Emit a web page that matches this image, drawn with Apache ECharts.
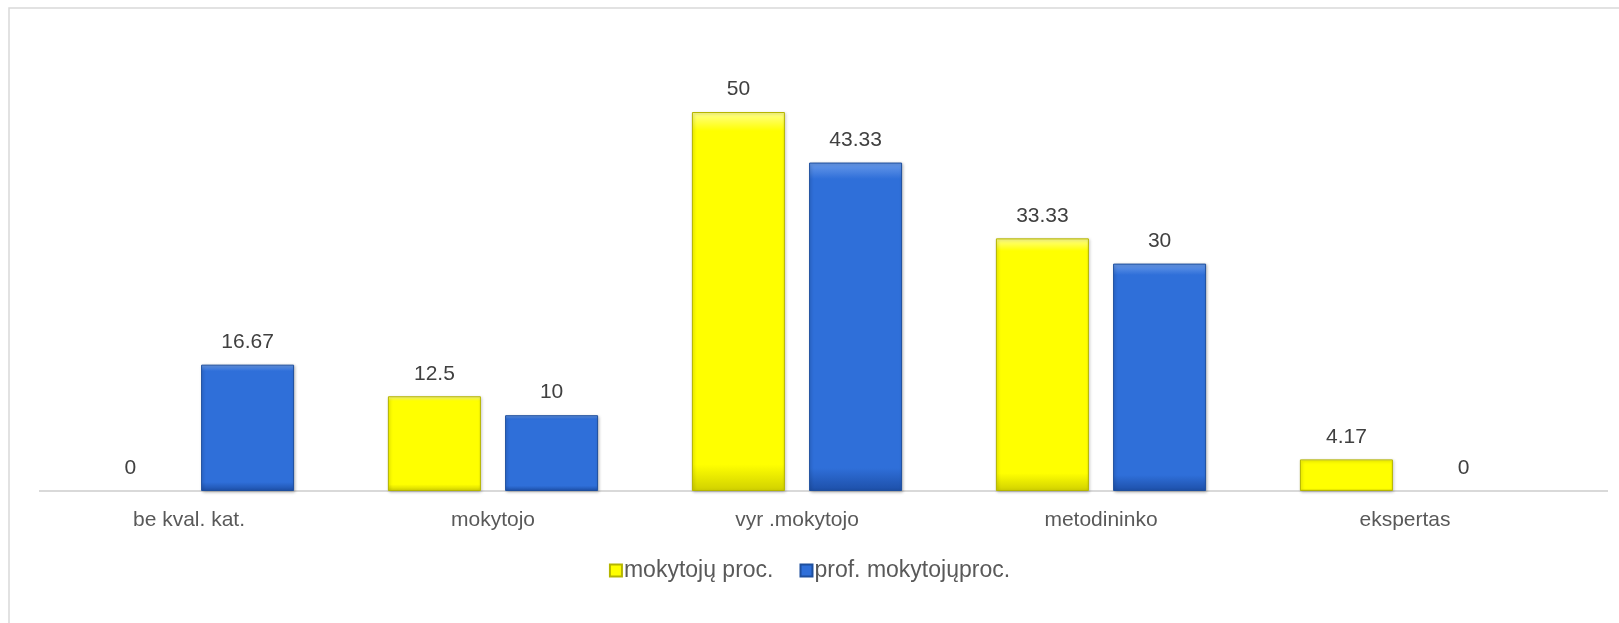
<!DOCTYPE html>
<html>
<head>
<meta charset="utf-8">
<script src="https://cdn.jsdelivr.net/npm/echarts@6/dist/echarts.min.js"></script>
<style>
html,body{margin:0;padding:0;background:#fff;}
#c{width:1619px;height:623px;}
</style>
</head>
<body>
<div id="c"></div>
<script>
const categories = ['be kval. kat.', 'mokytojo', 'vyr .mokytojo', 'metodininko', 'ekspertas'];
const seriesNames = ['mokytojų proc.', 'prof. mokytojųproc.'];
const mokytojuProc = [0, 12.5, 50, 33.33, 4.17];
const profMokytojuProc = [16.67, 10, 43.33, 30, 0];

const FONT = 'Liberation Sans';
const chart = echarts.init(document.getElementById('c'));

function barStyle(light, mid, dark, border) {
  return {
    color: new echarts.graphic.LinearGradient(0, 0, 0, 1, [
      {offset: 0, color: light},
      {offset: 0.05, color: mid},
      {offset: 0.93, color: mid},
      {offset: 1, color: dark}
    ]),
    borderColor: border,
    borderWidth: 1,
    shadowColor: 'rgba(0,0,0,0.25)',
    shadowBlur: 3,
    shadowOffsetX: 1,
    shadowOffsetY: 1
  };
}
function toData(arr) {
  return arr.map(v => v === 0
    ? {value: v, itemStyle: {borderWidth: 0, shadowBlur: 0, shadowOffsetX: 0, shadowOffsetY: 0, opacity: 0}}
    : v);
}
const labelStyle = {show: true, position: 'top', distance: 12, fontFamily: FONT, fontSize: 21, color: '#404040', opacity: 1};

chart.setOption({
  animation: false,
  backgroundColor: '#fff',
  graphic: [
    {type: 'rect', shape: {x: 9, y: 8, width: 1640, height: 640}, style: {fill: 'none', stroke: '#d9d9d9', lineWidth: 1.5}, silent: true},
    {type: 'line', shape: {x1: 39, y1: 491, x2: 1608, y2: 491}, style: {stroke: '#d9d9d9', lineWidth: 2}, silent: true, z: 1}
  ],
  grid: {left: 37, right: 62, top: 112, bottom: 132, containLabel: false},
  legend: {
    data: seriesNames,
    bottom: 36,
    left: 'center',
    itemWidth: 12,
    itemHeight: 12,
    itemGap: 26,
    icon: 'rect',
    textStyle: {fontFamily: FONT, fontSize: 23, color: '#595959', padding: [0, 0, 0, -3]}
  },
  xAxis: {
    type: 'category',
    data: categories,
    axisLine: {show: false},
    axisTick: {show: false},
    axisLabel: {fontFamily: FONT, fontSize: 21, color: '#595959', margin: 19}
  },
  yAxis: {
    type: 'value',
    min: 0,
    max: 50,
    show: false,
    splitLine: {show: false}
  },
  series: [
    {
      name: seriesNames[0],
      type: 'bar',
      data: toData(mokytojuProc),
      barWidth: 93,
      barGap: '26%',
      itemStyle: barStyle('#ffff90', '#ffff00', '#d0d000', '#b5b500'),
      label: labelStyle
    },
    {
      name: seriesNames[1],
      type: 'bar',
      data: toData(profMokytojuProc),
      barWidth: 93,
      itemStyle: barStyle('#6a9bea', '#2f6fd9', '#1d4fa8', '#1e4f9e'),
      label: labelStyle
    }
  ]
});
</script>
</body>
</html>
